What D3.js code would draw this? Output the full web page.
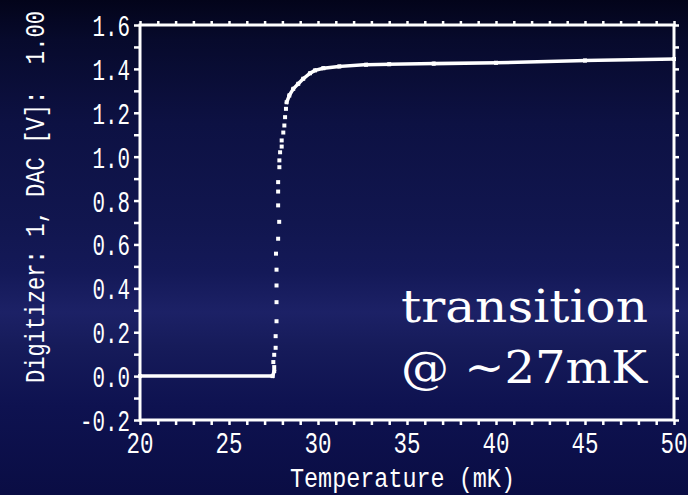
<!DOCTYPE html>
<html>
<head>
<meta charset="utf-8">
<script src="https://cdn.jsdelivr.net/npm/d3@7"></script>
<style>
  html, body { margin: 0; padding: 0; background: #0a0c30; }
  svg { display: block; }
</style>
</head>
<body>
<svg id="chart" width="688" height="495"></svg>
<script>
// values
var tempK = [20, 27.45, 27.54, 27.54, 27.49, 27.54, 27.62, 27.62, 27.67, 27.67, 27.67, 27.67,
  27.64, 27.76, 27.82, 27.76, 27.76, 27.76, 27.83, 27.83, 27.87, 27.96, 27.96, 28.05, 28.11,
  28.15, 28.2, 28.24, 28.39, 28.61, 28.89, 29.17, 29.55, 29.83, 30.3, 31.2, 32.7, 34, 36.5,
  40, 45, 50];
var volts = [0, 0, 0.023, 0.041, 0.064, 0.097, 0.129, 0.182, 0.25, 0.337, 0.413, 0.485,
  0.558, 0.626, 0.703, 0.778, 0.841, 0.884, 0.952, 0.983, 1.02, 1.046, 1.074, 1.11, 1.142,
  1.18, 1.218, 1.248, 1.279, 1.309, 1.332, 1.355, 1.38, 1.393, 1.403, 1.411, 1.419, 1.421,
  1.424, 1.428, 1.438, 1.445];

var xTicks = [20, 25, 30, 35, 40, 45, 50];
var xTickLabels = ["20", "25", "30", "35", "40", "45", "50"];
var yTicks = [-0.2, 0, 0.2, 0.4, 0.6, 0.8, 1.0, 1.2, 1.4, 1.6];
var yTickLabels = ["-0.2", "0.0", "0.2", "0.4", "0.6", "0.8", "1.0", "1.2", "1.4", "1.6"];
var xMinor = d3.range(20, 51, 1);
var yMinor = d3.range(-2, 17, 1).map(function (d) { return d / 10; });

var svg = d3.select("#chart");

// background gradient (dark navy, lighter band low in the picture)
var defs = svg.append("defs");
var grad = defs.append("linearGradient")
  .attr("id", "bg").attr("x1", 0).attr("y1", 0).attr("x2", 0).attr("y2", 1);
[[0, "#03041a"], [0.08, "#070a2c"], [0.25, "#0d1143"], [0.45, "#11164f"],
 [0.55, "#141958"], [0.63, "#1c2166"], [0.7, "#161b5a"], [0.82, "#0e1250"],
 [1, "#0a0d44"]].forEach(function (s) {
  grad.append("stop").attr("offset", s[0]).attr("stop-color", s[1]);
});
svg.append("rect").attr("width", 688).attr("height", 495).attr("fill", "url(#bg)");

var x = d3.scaleLinear().domain([20, 50]).range([140, 674]);
var y = d3.scaleLinear().domain([-0.2, 1.6]).range([420, 25]);

var monoFont = "'Liberation Mono', 'DejaVu Sans Mono', monospace";

// frame
svg.append("rect")
  .attr("x", x(20)).attr("y", y(1.6))
  .attr("width", x(50) - x(20)).attr("height", y(-0.2) - y(1.6))
  .attr("fill", "none").attr("stroke", "#fff").attr("stroke-width", 3);

function styleAxis(g) {
  g.select(".domain").remove();
  g.selectAll("line").attr("stroke", "#fff").attr("stroke-width", 2.5);
  g.selectAll("text").remove();
}

svg.append("g").attr("transform", "translate(0," + y(-0.2) + ")")
  .call(d3.axisBottom(x).tickValues(xMinor).tickSize(5).tickFormat(""))
  .call(styleAxis);
svg.append("g").attr("transform", "translate(0," + y(1.6) + ")")
  .call(d3.axisTop(x).tickValues(xMinor).tickSize(4).tickFormat(""))
  .call(styleAxis);
svg.append("g").attr("transform", "translate(" + x(20) + ",0)")
  .call(d3.axisLeft(y).tickValues(yMinor).tickSize(6).tickFormat(""))
  .call(styleAxis);
svg.append("g").attr("transform", "translate(" + x(50) + ",0)")
  .call(d3.axisRight(y).tickValues(yMinor).tickSize(5).tickFormat(""))
  .call(styleAxis);

// tick labels
svg.append("g").selectAll("text").data(xTicks).join("text")
  .attr("x", function (d) { return x(d); })
  .attr("y", 453)
  .attr("text-anchor", "middle")
  .attr("textLength", 27).attr("lengthAdjust", "spacingAndGlyphs")
  .attr("font-family", monoFont).attr("font-size", 30)
  .attr("fill", "#fff")
  .text(function (d, i) { return xTickLabels[i]; });

svg.append("g").selectAll("text").data(yTicks).join("text")
  .attr("x", 130)
  .attr("y", function (d) { return y(d) + 11; })
  .attr("text-anchor", "end")
  .attr("textLength", function (d, i) { return yTickLabels[i].length * 12.5; })
  .attr("lengthAdjust", "spacingAndGlyphs")
  .attr("font-family", monoFont).attr("font-size", 30)
  .attr("fill", "#fff")
  .text(function (d, i) { return yTickLabels[i]; });

// axis titles
svg.append("text")
  .attr("x", 290).attr("y", 487)
  .attr("textLength", 225).attr("lengthAdjust", "spacingAndGlyphs")
  .attr("font-family", monoFont).attr("font-size", 27)
  .attr("fill", "#fff")
  .text("Temperature (mK)");

svg.append("text")
  .attr("transform", "translate(44,383) rotate(-90)")
  .attr("xml:space", "preserve")
  .attr("textLength", 372).attr("lengthAdjust", "spacingAndGlyphs")
  .attr("font-family", monoFont).attr("font-size", 27)
  .attr("fill", "#fff")
  .text("Digitizer: 1, DAC [V]:  1.00");

// trace: join neighbours along shallow stretches, leave dots on the steep jump
var pts = tempK.map(function (t, i) { return [x(t), y(volts[i])]; });
var segs = [];
for (var i = 1; i < pts.length; i++) {
  var dx = Math.abs(pts[i][0] - pts[i - 1][0]);
  var dy = Math.abs(pts[i][1] - pts[i - 1][1]);
  if (dy < 2 * dx + 2) segs.push([pts[i - 1], pts[i]]);
}
svg.append("g").selectAll("path").data(segs).join("path")
  .attr("d", d3.line())
  .attr("fill", "none").attr("stroke", "#fff")
  .attr("stroke-width", 3.5).attr("stroke-linecap", "square");
svg.append("g").selectAll("rect").data(pts).join("rect")
  .attr("x", function (d) { return d[0] - 2; })
  .attr("y", function (d) { return d[1] - 2; })
  .attr("width", 4).attr("height", 4)
  .attr("fill", "#fff");

// annotation
var serif = "'DejaVu Serif', serif";
svg.append("text")
  .attr("x", 401).attr("y", 322)
  .attr("textLength", 247).attr("lengthAdjust", "spacingAndGlyphs")
  .attr("font-family", serif).attr("font-size", 45)
  .attr("fill", "#fff")
  .text("transition");
svg.append("text")
  .attr("x", 401).attr("y", 383)
  .attr("textLength", 246).attr("lengthAdjust", "spacingAndGlyphs")
  .attr("font-family", serif).attr("font-size", 45)
  .attr("fill", "#fff")
  .text("@ ~27mK");
</script>
</body>
</html>
